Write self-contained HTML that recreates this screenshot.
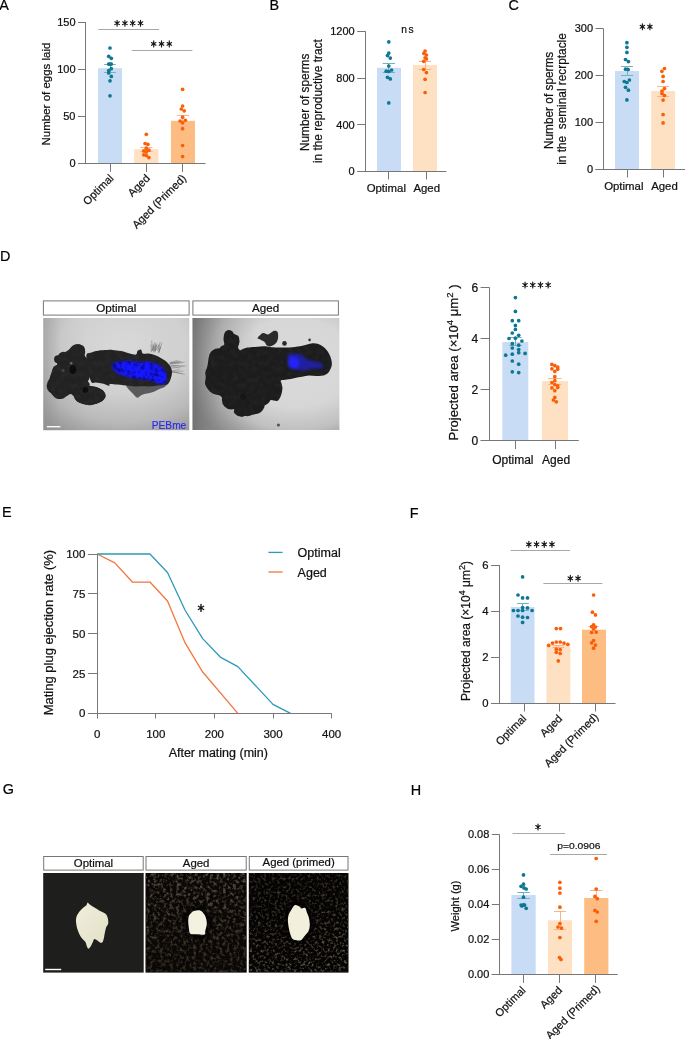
<!DOCTYPE html>
<html><head><meta charset="utf-8"><style>
html,body{margin:0;padding:0;background:#fff;}
svg{display:block;filter:blur(0.3px);}
text{font-family:"Liberation Sans", sans-serif;stroke:#111;stroke-width:0.22px;}
</style></head><body>
<svg width="685" height="1039" viewBox="0 0 685 1039" font-family='"Liberation Sans", sans-serif'>
<rect width="685" height="1039" fill="#fff"/>
<text x="-0.8" y="10.2" font-size="14.4" text-anchor="start" fill="#000" >A</text>
<rect x="98" y="68.19066666666666" width="24" height="95.20933333333335" fill="#c8dcf6" />
<rect x="134.2" y="149.2" width="24.30000000000001" height="14.200000000000017" fill="#fee0c2" />
<rect x="171" y="120.8" width="24" height="42.60000000000001" fill="#fdbd82" />
<line x1="85.5" y1="22.0" x2="85.5" y2="163.4" stroke="#777777" stroke-width="1"/>
<line x1="78.0" y1="22.5" x2="85.7" y2="22.5" stroke="#777777" stroke-width="1"/>
<text x="75.5" y="25.96" font-size="11" text-anchor="end" fill="#111" >150</text>
<line x1="78.0" y1="69.5" x2="85.7" y2="69.5" stroke="#777777" stroke-width="1"/>
<text x="75.5" y="73.09333333333333" font-size="11" text-anchor="end" fill="#111" >100</text>
<line x1="78.0" y1="116.5" x2="85.7" y2="116.5" stroke="#777777" stroke-width="1"/>
<text x="75.5" y="120.22666666666667" font-size="11" text-anchor="end" fill="#111" >50</text>
<line x1="78.0" y1="163.5" x2="85.7" y2="163.5" stroke="#777777" stroke-width="1"/>
<text x="75.5" y="167.36" font-size="11" text-anchor="end" fill="#111" >0</text>
<line x1="78" y1="163.5" x2="205.6" y2="163.5" stroke="#777777" stroke-width="1"/>
<line x1="110.5" y1="163.4" x2="110.5" y2="171.9" stroke="#777777" stroke-width="1"/>
<line x1="146.5" y1="163.4" x2="146.5" y2="171.9" stroke="#777777" stroke-width="1"/>
<line x1="182.5" y1="163.4" x2="182.5" y2="171.9" stroke="#777777" stroke-width="1"/>
<line x1="110.5" y1="64.4" x2="110.5" y2="72.5" stroke="#74b2c0" stroke-width="1"/>
<line x1="104.1" y1="64.5" x2="115.9" y2="64.5" stroke="#74b2c0" stroke-width="1"/>
<line x1="104.1" y1="72.5" x2="115.9" y2="72.5" stroke="#74b2c0" stroke-width="1"/>
<line x1="146.5" y1="147" x2="146.5" y2="151.4" stroke="#fbb48a" stroke-width="1"/>
<line x1="140.20000000000002" y1="147.5" x2="152.6" y2="147.5" stroke="#fbb48a" stroke-width="1"/>
<line x1="140.20000000000002" y1="151.5" x2="152.6" y2="151.5" stroke="#fbb48a" stroke-width="1"/>
<line x1="182.5" y1="115.1" x2="182.5" y2="126.4" stroke="#fbb48a" stroke-width="1"/>
<line x1="176.8" y1="115.5" x2="189.0" y2="115.5" stroke="#fbb48a" stroke-width="1"/>
<line x1="176.8" y1="126.5" x2="189.0" y2="126.5" stroke="#fbb48a" stroke-width="1"/>
<circle cx="110.0" cy="48.0" r="1.85" fill="#0c7892"/>
<circle cx="108.7" cy="56.3" r="1.85" fill="#0c7892"/>
<circle cx="111.3" cy="58.3" r="1.85" fill="#0c7892"/>
<circle cx="108.7" cy="64.1" r="1.85" fill="#0c7892"/>
<circle cx="111.3" cy="64.1" r="1.85" fill="#0c7892"/>
<circle cx="110" cy="64.1" r="1.85" fill="#0c7892"/>
<circle cx="111.3" cy="68.7" r="1.85" fill="#0c7892"/>
<circle cx="108.7" cy="70.7" r="1.85" fill="#0c7892"/>
<circle cx="108.7" cy="73" r="1.85" fill="#0c7892"/>
<circle cx="111.3" cy="76.4" r="1.85" fill="#0c7892"/>
<circle cx="110" cy="80.8" r="1.85" fill="#0c7892"/>
<circle cx="110" cy="95.8" r="1.85" fill="#0c7892"/>
<circle cx="146.3" cy="134.3" r="1.85" fill="#fa5f08"/>
<circle cx="145.1" cy="143.5" r="1.85" fill="#fa5f08"/>
<circle cx="147.9" cy="144.3" r="1.85" fill="#fa5f08"/>
<circle cx="146.3" cy="148.2" r="1.85" fill="#fa5f08"/>
<circle cx="143.8" cy="150.9" r="1.85" fill="#fa5f08"/>
<circle cx="148.9" cy="150.2" r="1.85" fill="#fa5f08"/>
<circle cx="146.3" cy="151.9" r="1.85" fill="#fa5f08"/>
<circle cx="143.8" cy="154.8" r="1.85" fill="#fa5f08"/>
<circle cx="146.3" cy="155.5" r="1.85" fill="#fa5f08"/>
<circle cx="148.9" cy="157.6" r="1.85" fill="#fa5f08"/>
<circle cx="182.6" cy="89.3" r="1.85" fill="#fa5f08"/>
<circle cx="182.6" cy="106" r="1.85" fill="#fa5f08"/>
<circle cx="181.3" cy="109" r="1.85" fill="#fa5f08"/>
<circle cx="184.2" cy="110.8" r="1.85" fill="#fa5f08"/>
<circle cx="182.6" cy="117.2" r="1.85" fill="#fa5f08"/>
<circle cx="180.1" cy="121" r="1.85" fill="#fa5f08"/>
<circle cx="185.4" cy="120.3" r="1.85" fill="#fa5f08"/>
<circle cx="182.6" cy="122.8" r="1.85" fill="#fa5f08"/>
<circle cx="182.6" cy="128.7" r="1.85" fill="#fa5f08"/>
<circle cx="182.6" cy="145.5" r="1.85" fill="#fa5f08"/>
<circle cx="182.6" cy="156.5" r="1.85" fill="#fa5f08"/>
<line x1="98.4" y1="29.5" x2="159" y2="29.5" stroke="#a8a8a8" stroke-width="1"/>
<path d="M117.10,20.20L117.10,26.20M114.86,24.60L119.34,21.80M114.86,21.80L119.34,24.60" stroke="#1a1a1a" stroke-width="1.15" stroke-linecap="round" fill="none"/><circle cx="117.10" cy="23.20" r="1.25" fill="#1a1a1a"/>
<path d="M124.90,20.20L124.90,26.20M122.66,24.60L127.14,21.80M122.66,21.80L127.14,24.60" stroke="#1a1a1a" stroke-width="1.15" stroke-linecap="round" fill="none"/><circle cx="124.90" cy="23.20" r="1.25" fill="#1a1a1a"/>
<path d="M132.70,20.20L132.70,26.20M130.46,24.60L134.94,21.80M130.46,21.80L134.94,24.60" stroke="#1a1a1a" stroke-width="1.15" stroke-linecap="round" fill="none"/><circle cx="132.70" cy="23.20" r="1.25" fill="#1a1a1a"/>
<path d="M140.50,20.20L140.50,26.20M138.26,24.60L142.74,21.80M138.26,21.80L142.74,24.60" stroke="#1a1a1a" stroke-width="1.15" stroke-linecap="round" fill="none"/><circle cx="140.50" cy="23.20" r="1.25" fill="#1a1a1a"/>
<line x1="131.8" y1="50.5" x2="192.4" y2="50.5" stroke="#a8a8a8" stroke-width="1"/>
<path d="M153.70,40.90L153.70,46.90M151.46,45.30L155.94,42.50M151.46,42.50L155.94,45.30" stroke="#1a1a1a" stroke-width="1.15" stroke-linecap="round" fill="none"/><circle cx="153.70" cy="43.90" r="1.25" fill="#1a1a1a"/>
<path d="M161.50,40.90L161.50,46.90M159.26,45.30L163.74,42.50M159.26,42.50L163.74,45.30" stroke="#1a1a1a" stroke-width="1.15" stroke-linecap="round" fill="none"/><circle cx="161.50" cy="43.90" r="1.25" fill="#1a1a1a"/>
<path d="M169.30,40.90L169.30,46.90M167.06,45.30L171.54,42.50M167.06,42.50L171.54,45.30" stroke="#1a1a1a" stroke-width="1.15" stroke-linecap="round" fill="none"/><circle cx="169.30" cy="43.90" r="1.25" fill="#1a1a1a"/>
<text x="49.5" y="94" font-size="11.5" text-anchor="middle" fill="#111" transform="rotate(-90 49.5 94)" >Number of eggs laid</text>
<text x="114.3" y="179" font-size="11" text-anchor="end" fill="#111" transform="rotate(-45 114.3 179)" >Optimal</text>
<text x="150.5" y="179" font-size="11" text-anchor="end" fill="#111" transform="rotate(-45 150.5 179)" >Aged</text>
<text x="186.8" y="179" font-size="11" text-anchor="end" fill="#111" transform="rotate(-45 186.8 179)" >Aged (Primed)</text>
<text x="269.6" y="9.9" font-size="14.4" text-anchor="start" fill="#000" >B</text>
<rect x="377" y="67.8" width="24" height="103.2" fill="#c8dcf6" />
<rect x="413" y="64.9" width="24" height="106.1" fill="#fee0c2" />
<line x1="365.5" y1="31.4" x2="365.5" y2="171" stroke="#777777" stroke-width="1"/>
<line x1="357.20000000000005" y1="31.5" x2="365.6" y2="31.5" stroke="#777777" stroke-width="1"/>
<text x="354.70000000000005" y="35.36" font-size="11" text-anchor="end" fill="#111" >1200</text>
<line x1="357.20000000000005" y1="78.5" x2="365.6" y2="78.5" stroke="#777777" stroke-width="1"/>
<text x="354.70000000000005" y="82.16" font-size="11" text-anchor="end" fill="#111" >800</text>
<line x1="357.20000000000005" y1="124.5" x2="365.6" y2="124.5" stroke="#777777" stroke-width="1"/>
<text x="354.70000000000005" y="128.56" font-size="11" text-anchor="end" fill="#111" >400</text>
<line x1="357.20000000000005" y1="171.5" x2="365.6" y2="171.5" stroke="#777777" stroke-width="1"/>
<text x="354.70000000000005" y="174.96" font-size="11" text-anchor="end" fill="#111" >0</text>
<line x1="357.6" y1="171.5" x2="446.4" y2="171.5" stroke="#777777" stroke-width="1"/>
<line x1="388.5" y1="171" x2="388.5" y2="179.5" stroke="#777777" stroke-width="1"/>
<line x1="426.5" y1="171" x2="426.5" y2="179.5" stroke="#777777" stroke-width="1"/>
<line x1="388.5" y1="63.2" x2="388.5" y2="72.3" stroke="#74b2c0" stroke-width="1"/>
<line x1="382.6" y1="63.5" x2="395.0" y2="63.5" stroke="#74b2c0" stroke-width="1"/>
<line x1="382.6" y1="72.5" x2="395.0" y2="72.5" stroke="#74b2c0" stroke-width="1"/>
<line x1="425.5" y1="61.3" x2="425.5" y2="69.5" stroke="#fbb48a" stroke-width="1"/>
<line x1="418.9" y1="61.5" x2="431.1" y2="61.5" stroke="#fbb48a" stroke-width="1"/>
<line x1="418.9" y1="69.5" x2="431.1" y2="69.5" stroke="#fbb48a" stroke-width="1"/>
<circle cx="388.8" cy="41.9" r="1.85" fill="#0c7892"/>
<circle cx="388.8" cy="53.1" r="1.85" fill="#0c7892"/>
<circle cx="387.5" cy="55.6" r="1.85" fill="#0c7892"/>
<circle cx="390.3" cy="58.1" r="1.85" fill="#0c7892"/>
<circle cx="388.8" cy="66" r="1.85" fill="#0c7892"/>
<circle cx="386.2" cy="71.2" r="1.85" fill="#0c7892"/>
<circle cx="388.8" cy="71.5" r="1.85" fill="#0c7892"/>
<circle cx="391.6" cy="70" r="1.85" fill="#0c7892"/>
<circle cx="387.5" cy="77.3" r="1.85" fill="#0c7892"/>
<circle cx="390.3" cy="78.9" r="1.85" fill="#0c7892"/>
<circle cx="388.8" cy="102.9" r="1.85" fill="#0c7892"/>
<circle cx="425.1" cy="51" r="1.85" fill="#fa5f08"/>
<circle cx="423.9" cy="53.4" r="1.85" fill="#fa5f08"/>
<circle cx="426.4" cy="55" r="1.85" fill="#fa5f08"/>
<circle cx="425.1" cy="57.8" r="1.85" fill="#fa5f08"/>
<circle cx="426.4" cy="58.9" r="1.85" fill="#fa5f08"/>
<circle cx="423.7" cy="61.3" r="1.85" fill="#fa5f08"/>
<circle cx="423.7" cy="69.5" r="1.85" fill="#fa5f08"/>
<circle cx="426.4" cy="72.6" r="1.85" fill="#fa5f08"/>
<circle cx="425.1" cy="79.3" r="1.85" fill="#fa5f08"/>
<circle cx="425.1" cy="92.5" r="1.85" fill="#fa5f08"/>
<text x="408.3" y="33.3" font-size="10.2" text-anchor="middle" fill="#111" letter-spacing="1.6">ns</text>
<text x="386.3" y="191.7" font-size="11.4" text-anchor="middle" fill="#111" >Optimal</text>
<text x="426.7" y="191.7" font-size="11.4" text-anchor="middle" fill="#111" >Aged</text>
<text x="309.3" y="102.3" font-size="11.85" text-anchor="middle" fill="#111" transform="rotate(-90 309.3 102.3)" >Number of sperms</text>
<text x="322.4" y="101.2" font-size="11.85" text-anchor="middle" fill="#111" transform="rotate(-90 322.4 101.2)" >in the reproductive tract</text>
<text x="508.6" y="10.2" font-size="14.4" text-anchor="start" fill="#000" >C</text>
<rect x="615" y="71" width="24" height="98" fill="#c8dcf6" />
<rect x="651.2" y="91" width="23.899999999999977" height="78" fill="#fee0c2" />
<line x1="603.5" y1="28.400000000000006" x2="603.5" y2="169.0" stroke="#777777" stroke-width="1"/>
<line x1="595.5" y1="28.5" x2="603.2" y2="28.5" stroke="#777777" stroke-width="1"/>
<text x="593.0" y="32.36000000000001" font-size="11" text-anchor="end" fill="#111" >300</text>
<line x1="595.5" y1="75.5" x2="603.2" y2="75.5" stroke="#777777" stroke-width="1"/>
<text x="593.0" y="79.22666666666666" font-size="11" text-anchor="end" fill="#111" >200</text>
<line x1="595.5" y1="122.5" x2="603.2" y2="122.5" stroke="#777777" stroke-width="1"/>
<text x="593.0" y="126.09333333333332" font-size="11" text-anchor="end" fill="#111" >100</text>
<line x1="595.5" y1="169.5" x2="603.2" y2="169.5" stroke="#777777" stroke-width="1"/>
<text x="593.0" y="172.96" font-size="11" text-anchor="end" fill="#111" >0</text>
<line x1="595.4" y1="169.5" x2="685" y2="169.5" stroke="#777777" stroke-width="1"/>
<line x1="627.5" y1="169" x2="627.5" y2="177.5" stroke="#777777" stroke-width="1"/>
<line x1="663.5" y1="169" x2="663.5" y2="177.5" stroke="#777777" stroke-width="1"/>
<line x1="627.5" y1="66.4" x2="627.5" y2="75.7" stroke="#74b2c0" stroke-width="1"/>
<line x1="621" y1="66.5" x2="633" y2="66.5" stroke="#74b2c0" stroke-width="1"/>
<line x1="621" y1="75.5" x2="633" y2="75.5" stroke="#74b2c0" stroke-width="1"/>
<line x1="663.5" y1="86.3" x2="663.5" y2="96.3" stroke="#fbb48a" stroke-width="1"/>
<line x1="657.1" y1="86.5" x2="669.1" y2="86.5" stroke="#fbb48a" stroke-width="1"/>
<line x1="657.1" y1="96.5" x2="669.1" y2="96.5" stroke="#fbb48a" stroke-width="1"/>
<circle cx="626.9" cy="42.7" r="1.85" fill="#0c7892"/>
<circle cx="626.9" cy="47.3" r="1.85" fill="#0c7892"/>
<circle cx="626.9" cy="52.4" r="1.85" fill="#0c7892"/>
<circle cx="625.5" cy="59.5" r="1.85" fill="#0c7892"/>
<circle cx="628.4" cy="61.6" r="1.85" fill="#0c7892"/>
<circle cx="625.5" cy="69.2" r="1.85" fill="#0c7892"/>
<circle cx="628.2" cy="69.5" r="1.85" fill="#0c7892"/>
<circle cx="624.3" cy="81.5" r="1.85" fill="#0c7892"/>
<circle cx="626.9" cy="82.5" r="1.85" fill="#0c7892"/>
<circle cx="629.4" cy="80" r="1.85" fill="#0c7892"/>
<circle cx="625.5" cy="87.3" r="1.85" fill="#0c7892"/>
<circle cx="628.4" cy="90.2" r="1.85" fill="#0c7892"/>
<circle cx="626.9" cy="99.9" r="1.85" fill="#0c7892"/>
<circle cx="664.5" cy="68.5" r="1.85" fill="#fa5f08"/>
<circle cx="661.9" cy="71.3" r="1.85" fill="#fa5f08"/>
<circle cx="663.1" cy="76.4" r="1.85" fill="#fa5f08"/>
<circle cx="663.1" cy="81.5" r="1.85" fill="#fa5f08"/>
<circle cx="664.5" cy="88.6" r="1.85" fill="#fa5f08"/>
<circle cx="661.9" cy="91" r="1.85" fill="#fa5f08"/>
<circle cx="661.9" cy="93.5" r="1.85" fill="#fa5f08"/>
<circle cx="664.5" cy="95.5" r="1.85" fill="#fa5f08"/>
<circle cx="663.1" cy="100.1" r="1.85" fill="#fa5f08"/>
<circle cx="663.1" cy="114.5" r="1.85" fill="#fa5f08"/>
<circle cx="663.1" cy="122.9" r="1.85" fill="#fa5f08"/>
<path d="M642.40,23.75L642.40,29.75M640.16,28.15L644.64,25.35M640.16,25.35L644.64,28.15" stroke="#1a1a1a" stroke-width="1.15" stroke-linecap="round" fill="none"/><circle cx="642.40" cy="26.75" r="1.25" fill="#1a1a1a"/>
<path d="M649.90,23.75L649.90,29.75M647.66,28.15L652.14,25.35M647.66,25.35L652.14,28.15" stroke="#1a1a1a" stroke-width="1.15" stroke-linecap="round" fill="none"/><circle cx="649.90" cy="26.75" r="1.25" fill="#1a1a1a"/>
<text x="623.8" y="190.2" font-size="11.4" text-anchor="middle" fill="#111" >Optimal</text>
<text x="664.5" y="190.2" font-size="11.4" text-anchor="middle" fill="#111" >Aged</text>
<text x="553.3" y="100.4" font-size="11.85" text-anchor="middle" fill="#111" transform="rotate(-90 553.3 100.4)" >Number of sperms</text>
<text x="566.1" y="99.0" font-size="11.85" text-anchor="middle" fill="#111" transform="rotate(-90 566.1 99.0)" >in the&#160; seminal recrptacle</text>
<text x="0" y="260.7" font-size="14.4" text-anchor="start" fill="#000" >D</text>
<rect x="43.4" y="300.9" width="145.7" height="14.2" fill="#fff" stroke="#777" stroke-width="1"/>
<text x="116.25" y="312.3" font-size="11.6" text-anchor="middle" fill="#111" >Optimal</text>
<rect x="192.9" y="300.9" width="145.49999999999997" height="14.2" fill="#fff" stroke="#777" stroke-width="1"/>
<text x="265.65" y="312.3" font-size="11.6" text-anchor="middle" fill="#111" >Aged</text>

<defs>
 <radialGradient id="dbg1" cx="0.55" cy="0.25" r="0.85">
  <stop offset="0" stop-color="#d8d8d8"/><stop offset="0.5" stop-color="#d0d0d0"/><stop offset="0.8" stop-color="#b9b9b9"/><stop offset="1" stop-color="#9c9c9c"/>
 </radialGradient>
 <linearGradient id="dbg1l" x1="0" y1="0" x2="1" y2="0">
  <stop offset="0" stop-color="#888" stop-opacity="0.45"/><stop offset="0.12" stop-color="#888" stop-opacity="0.1"/><stop offset="0.3" stop-color="#888" stop-opacity="0"/>
 </linearGradient>
 <radialGradient id="dbg2" cx="0.7" cy="0.4" r="0.8">
  <stop offset="0" stop-color="#dbdbdb"/><stop offset="0.5" stop-color="#d6d6d6"/><stop offset="0.75" stop-color="#c0c0c0"/><stop offset="1" stop-color="#8c8c8c"/>
 </radialGradient>
 <linearGradient id="dbg2l" x1="0" y1="0" x2="1" y2="0">
  <stop offset="0" stop-color="#6a6a6a" stop-opacity="0.75"/><stop offset="0.2" stop-color="#8a8a8a" stop-opacity="0.35"/><stop offset="0.45" stop-color="#999" stop-opacity="0"/>
 </linearGradient>
 <filter id="soft" x="-10%" y="-10%" width="120%" height="120%"><feGaussianBlur stdDeviation="0.6"/></filter>
 <filter id="soft2" x="-20%" y="-20%" width="140%" height="140%"><feGaussianBlur stdDeviation="0.9"/></filter>
 <filter id="soft3" x="-20%" y="-20%" width="140%" height="140%"><feGaussianBlur stdDeviation="1.6"/></filter>
 <filter id="mottle" x="0" y="0" width="100%" height="100%" color-interpolation-filters="sRGB">
  <feTurbulence type="fractalNoise" baseFrequency="0.18" numOctaves="3" seed="11" result="n"/>
  <feColorMatrix in="n" type="matrix" values="0 0 0 0 0.4  0 0 0 0 0.4  0 0 0 0 0.4  1.2 0 0 0 -0.45" result="s"/>
  <feComposite in="s" in2="SourceGraphic" operator="in"/>
 </filter>
 <filter id="bmottle" x="0" y="0" width="100%" height="100%" color-interpolation-filters="sRGB">
  <feTurbulence type="fractalNoise" baseFrequency="0.3" numOctaves="2" seed="5" result="n"/>
  <feColorMatrix in="n" type="matrix" values="0 0 0 0 0.02  0 0 0 0 0.02  0 0 0 0 0.35  2.2 0 0 0 -0.9" result="s"/>
  <feComposite in="s" in2="SourceGraphic" operator="in"/>
 </filter>
 <clipPath id="cpo"><path d="M69.0,349.6C70.3,348.5 71.7,346.2 73.3,345.3C74.9,344.4 77.0,344.0 78.7,344.2C80.4,344.4 82.5,345.2 83.6,346.3C84.7,347.5 85.0,349.7 85.2,351.2C85.4,352.7 84.5,354.4 84.7,355.5C84.9,356.6 85.5,356.4 86.3,357.7C87.1,358.9 88.8,360.9 89.5,363.1C90.3,365.2 90.6,368.1 90.6,370.6C90.6,373.2 90.1,376.2 89.5,378.2C89.0,380.2 87.4,381.3 87.4,382.5C87.4,383.8 88.1,385.1 89.5,385.8C91.0,386.5 93.9,386.1 96.0,386.9C98.2,387.6 100.9,388.7 102.5,390.1C104.1,391.5 105.6,393.9 105.7,395.5C105.9,397.1 104.8,398.6 103.6,399.8C102.3,401.1 100.3,402.2 98.2,403.1C96.0,404.0 93.1,405.0 90.6,405.2C88.1,405.4 85.4,404.9 83.1,404.1C80.7,403.4 78.1,402.2 76.6,400.9C75.0,399.6 74.9,397.7 73.9,396.6C72.9,395.4 71.8,394.0 70.6,393.9C69.5,393.8 68.2,395.2 66.8,396.0C65.5,396.8 64.1,398.3 62.5,398.7C60.9,399.2 58.7,399.3 57.1,398.7C55.5,398.2 54.1,396.9 52.8,395.5C51.5,394.1 50.4,392.1 49.6,390.1C48.8,388.1 47.9,385.6 47.9,383.6C47.9,381.6 48.9,380.2 49.6,378.2C50.2,376.2 51.0,373.5 51.7,371.7C52.4,369.9 53.0,368.5 53.9,367.4C54.8,366.3 56.7,366.3 57.1,365.2C57.6,364.2 56.6,362.4 56.6,360.9C56.6,359.5 56.4,357.9 57.1,356.6C57.8,355.3 59.5,354.2 60.9,353.4C62.3,352.6 64.4,352.4 65.8,351.7C67.1,351.1 67.7,350.7 69.0,349.6Z"/><path d="M86.3,356.6C86.3,352.0 88.6,353.8 90.6,352.8C92.6,351.8 95.5,351.1 98.2,350.7C100.9,350.2 104.4,350.3 106.8,350.1C109.2,350.0 110.1,349.7 112.4,349.9C114.8,350.1 118.2,350.5 121.1,351.1C124.0,351.8 127.3,353.0 129.8,353.6C132.3,354.2 134.7,355.1 136.0,354.6C137.3,354.2 136.7,351.7 137.5,350.9C138.3,350.1 140.1,349.2 141.0,349.6C141.9,350.1 141.6,353.0 142.8,353.6C144.1,354.3 146.5,353.4 148.4,353.6C150.4,353.8 152.6,354.1 154.6,354.9C156.7,355.6 158.8,356.7 160.8,358.0C162.9,359.2 165.4,360.7 167.0,362.3C168.7,363.9 169.9,365.6 170.8,367.3C171.6,368.9 172.0,370.4 172.0,372.2C172.0,374.1 171.4,376.6 170.8,378.4C170.1,380.3 169.5,382.3 168.3,383.4C167.0,384.5 165.6,384.5 163.3,384.9C161.0,385.3 158.2,385.6 154.6,385.9C151.1,386.1 146.4,386.5 142.2,386.5C138.1,386.5 134.0,386.2 129.8,385.9C125.7,385.6 120.7,384.9 117.4,384.6C114.1,384.3 111.4,383.8 110.0,384.0C108.6,384.2 110.2,385.8 109.0,385.8C107.7,385.7 104.7,384.2 102.5,383.6C100.3,383.1 98.0,383.1 96.0,382.5C94.0,382.0 92.2,384.7 90.6,380.4C89.0,376.1 86.3,361.2 86.3,356.6Z"/></clipPath>
 <clipPath id="cpa"><path d="M224.8,332.5C225.7,331.0 227.7,330.1 228.8,330.1C229.9,330.1 230.3,331.7 231.4,332.5C232.5,333.2 234.2,333.8 235.4,334.4C236.6,335.1 238.0,335.2 238.6,336.4C239.3,337.6 239.4,339.9 239.3,341.7C239.2,343.4 237.9,345.5 238.0,346.9C238.1,348.3 239.3,349.8 240.0,350.2C240.6,350.6 240.7,350.0 241.9,349.5C243.1,349.1 245.0,348.0 247.2,347.6C249.4,347.1 252.0,347.1 255.1,346.9C258.1,346.7 262.8,346.2 265.6,346.2C268.3,346.3 268.7,347.1 271.7,347.3C274.6,347.5 279.5,347.6 283.4,347.5C287.3,347.5 291.5,347.3 295.0,346.9C298.5,346.5 301.7,345.8 304.4,345.2C307.1,344.6 309.1,343.6 311.4,343.4C313.7,343.2 316.3,343.3 318.4,344.0C320.5,344.7 322.5,346.0 324.2,347.5C326.0,349.1 327.7,351.4 328.9,353.4C330.1,355.3 330.8,357.3 331.2,359.2C331.7,361.1 332.0,363.3 331.8,365.0C331.6,366.8 330.8,368.3 330.1,369.7C329.4,371.1 328.9,372.2 327.7,373.2C326.6,374.2 325.0,375.1 323.1,375.5C321.1,376.0 318.4,376.1 316.1,376.1C313.7,376.1 311.4,375.5 309.1,375.5C306.7,375.6 304.4,376.3 302.0,376.7C299.7,377.1 297.6,377.4 295.0,377.9C292.5,378.4 289.2,379.2 286.9,379.6C284.5,380.1 281.9,379.8 281.0,380.5C280.1,381.1 281.4,382.4 281.6,383.7C281.8,385.0 282.5,386.4 282.4,388.4C282.3,390.3 281.8,393.4 281.0,395.4C280.2,397.4 279.2,399.9 277.5,400.7C275.8,401.4 272.8,399.9 270.8,400.1C268.8,400.4 266.7,400.9 265.6,402.1C264.5,403.3 265.1,405.6 264.3,407.3C263.4,409.1 262.1,411.4 260.3,412.6C258.6,413.8 256.4,414.0 253.8,414.6C251.1,415.1 247.2,415.7 244.6,415.9C241.9,416.1 239.7,416.4 238.0,415.9C236.2,415.3 234.7,413.8 234.0,412.6C233.4,411.4 234.7,409.8 234.0,408.7C233.4,407.6 231.6,406.9 230.1,406.0C228.6,405.2 226.2,404.7 224.8,403.4C223.5,402.1 223.1,399.5 222.2,398.1C221.3,396.8 221.1,396.3 219.6,395.5C218.1,394.8 215.0,394.6 213.0,393.5C211.1,392.5 209.1,390.6 207.8,389.0C206.5,387.3 205.5,385.7 205.1,383.7C204.8,381.7 205.6,379.3 205.8,377.1C206.0,374.9 206.1,372.7 206.5,370.6C206.8,368.4 207.3,366.4 207.8,364.0C208.2,361.6 208.4,358.2 209.1,356.1C209.7,354.0 210.4,352.6 211.7,351.5C213.0,350.4 215.2,350.1 217.0,349.5C218.7,349.0 221.0,349.1 222.2,348.2C223.4,347.3 224.0,345.8 224.2,344.3C224.4,342.7 223.4,341.0 223.5,339.0C223.6,337.1 224.0,333.9 224.8,332.5Z"/></clipPath>
 <clipPath id="cpb"><path d="M112.4,364.2C113.5,363.2 115.8,362.2 118.6,361.7C121.5,361.2 126.3,361.0 129.8,361.1C133.3,361.2 136.6,362.2 139.7,362.3C142.8,362.4 145.5,361.4 148.4,361.7C151.3,362.0 154.6,363.0 157.1,364.2C159.6,365.3 161.8,366.7 163.3,368.5C164.9,370.3 165.9,372.6 166.4,374.7C166.9,376.8 166.9,379.4 166.4,380.9C165.9,382.5 164.7,383.6 163.3,384.0C162.0,384.5 160.0,384.1 158.4,383.6C156.7,383.2 155.5,381.8 153.4,381.2C151.3,380.5 148.6,380.1 145.9,379.7C143.3,379.3 140.0,379.1 137.3,378.7C134.6,378.3 132.5,378.1 129.8,377.4C127.1,376.8 123.6,376.0 121.1,375.0C118.6,373.9 116.4,372.5 114.9,371.2C113.5,370.0 112.9,368.4 112.4,367.3C112.0,366.1 111.4,365.1 112.4,364.2Z"/></clipPath>
 <filter id="dmottle" x="0" y="0" width="100%" height="100%" color-interpolation-filters="sRGB">
  <feTurbulence type="fractalNoise" baseFrequency="0.22" numOctaves="2" seed="21" result="n"/>
  <feColorMatrix in="n" type="matrix" values="0 0 0 0 0.02  0 0 0 0 0.02  0 0 0 0 0.25  3.0 0 0 0 -1.4" result="s"/>
  <feComposite in="s" in2="SourceGraphic" operator="in"/>
 </filter>
</defs>
<rect x="43.3" y="318" width="146" height="112.2" fill="url(#dbg1)"/>
<rect x="43.3" y="318" width="146" height="112.2" fill="url(#dbg1l)"/>
<rect x="192.6" y="318" width="146.8" height="112" fill="url(#dbg2)"/>
<rect x="192.6" y="318" width="146.8" height="112" fill="url(#dbg2l)"/>
<g filter="url(#soft)">
 <line x1="153.0" y1="350.3" x2="153.3" y2="344.5" stroke="#666" stroke-width="0.45"/><line x1="151.5" y1="351.4" x2="155.0" y2="342.4" stroke="#666" stroke-width="0.45"/><line x1="157.6" y1="350.7" x2="158.8" y2="344.3" stroke="#666" stroke-width="0.45"/><line x1="152.4" y1="350.3" x2="151.7" y2="340.6" stroke="#666" stroke-width="0.45"/><line x1="158.1" y1="352.9" x2="160.9" y2="346.9" stroke="#666" stroke-width="0.45"/><line x1="153.6" y1="352.2" x2="156.0" y2="343.0" stroke="#666" stroke-width="0.45"/><line x1="158.6" y1="350.2" x2="160.2" y2="341.9" stroke="#666" stroke-width="0.45"/><line x1="155.3" y1="350.6" x2="156.1" y2="345.1" stroke="#666" stroke-width="0.45"/><line x1="159.0" y1="353.1" x2="160.3" y2="346.6" stroke="#666" stroke-width="0.45"/><line x1="158.8" y1="352.0" x2="162.1" y2="342.8" stroke="#666" stroke-width="0.45"/><line x1="155.3" y1="351.4" x2="156.9" y2="344.3" stroke="#666" stroke-width="0.45"/><line x1="152.3" y1="351.0" x2="155.2" y2="345.8" stroke="#666" stroke-width="0.45"/><line x1="151.3" y1="352.2" x2="151.0" y2="344.5" stroke="#666" stroke-width="0.45"/><line x1="155.0" y1="351.2" x2="159.0" y2="345.2" stroke="#666" stroke-width="0.45"/><line x1="154.5" y1="350.6" x2="156.3" y2="344.3" stroke="#666" stroke-width="0.45"/><line x1="154.0" y1="352.7" x2="153.9" y2="344.9" stroke="#666" stroke-width="0.45"/><line x1="171.7" y1="362.7" x2="180.1" y2="361.1" stroke="#777" stroke-width="0.45"/><line x1="171.3" y1="368.2" x2="180.9" y2="367.2" stroke="#777" stroke-width="0.45"/><line x1="169.5" y1="366.5" x2="177.8" y2="367.7" stroke="#777" stroke-width="0.45"/><line x1="171.7" y1="371.7" x2="184.8" y2="374.5" stroke="#777" stroke-width="0.45"/><line x1="169.0" y1="364.7" x2="183.7" y2="366.4" stroke="#777" stroke-width="0.45"/><line x1="170.2" y1="371.6" x2="182.5" y2="373.5" stroke="#777" stroke-width="0.45"/><line x1="169.8" y1="363.7" x2="180.9" y2="361.5" stroke="#777" stroke-width="0.45"/><line x1="170.1" y1="371.8" x2="180.4" y2="368.9" stroke="#777" stroke-width="0.45"/><line x1="169.0" y1="363.5" x2="182.5" y2="362.6" stroke="#777" stroke-width="0.45"/><line x1="169.8" y1="362.7" x2="184.7" y2="362.2" stroke="#777" stroke-width="0.45"/><line x1="169.6" y1="362.3" x2="177.9" y2="360.3" stroke="#777" stroke-width="0.45"/><line x1="171.0" y1="363.3" x2="179.3" y2="363.2" stroke="#777" stroke-width="0.45"/><line x1="169.7" y1="372.2" x2="178.5" y2="372.4" stroke="#777" stroke-width="0.45"/><line x1="171.3" y1="366.0" x2="186.2" y2="365.9" stroke="#777" stroke-width="0.45"/><line x1="169.7" y1="366.0" x2="177.9" y2="365.5" stroke="#777" stroke-width="0.45"/><line x1="169.7" y1="371.1" x2="183.5" y2="371.1" stroke="#777" stroke-width="0.45"/>
 <path d="M126.1,385.3C126.7,384.1 132.3,386.0 136.0,386.1C139.7,386.3 143.9,386.4 148.4,386.1C153.0,385.9 160.0,385.1 163.3,384.6C166.7,384.1 168.3,382.8 168.5,383.1C168.7,383.5 166.3,385.8 164.6,386.9C162.9,387.9 160.4,388.4 158.4,389.4C156.3,390.3 154.8,391.4 152.2,392.3C149.5,393.2 144.7,393.9 142.2,394.8C139.8,395.7 139.1,397.9 137.5,397.7C135.9,397.4 134.5,395.4 132.5,393.3C130.6,391.3 125.5,386.5 126.1,385.3Z" fill="#2e2e2e" opacity="0.72"/>
 <path d="M86.3,356.6C86.3,352.0 88.6,353.8 90.6,352.8C92.6,351.8 95.5,351.1 98.2,350.7C100.9,350.2 104.4,350.3 106.8,350.1C109.2,350.0 110.1,349.7 112.4,349.9C114.8,350.1 118.2,350.5 121.1,351.1C124.0,351.8 127.3,353.0 129.8,353.6C132.3,354.2 134.7,355.1 136.0,354.6C137.3,354.2 136.7,351.7 137.5,350.9C138.3,350.1 140.1,349.2 141.0,349.6C141.9,350.1 141.6,353.0 142.8,353.6C144.1,354.3 146.5,353.4 148.4,353.6C150.4,353.8 152.6,354.1 154.6,354.9C156.7,355.6 158.8,356.7 160.8,358.0C162.9,359.2 165.4,360.7 167.0,362.3C168.7,363.9 169.9,365.6 170.8,367.3C171.6,368.9 172.0,370.4 172.0,372.2C172.0,374.1 171.4,376.6 170.8,378.4C170.1,380.3 169.5,382.3 168.3,383.4C167.0,384.5 165.6,384.5 163.3,384.9C161.0,385.3 158.2,385.6 154.6,385.9C151.1,386.1 146.4,386.5 142.2,386.5C138.1,386.5 134.0,386.2 129.8,385.9C125.7,385.6 120.7,384.9 117.4,384.6C114.1,384.3 111.4,383.8 110.0,384.0C108.6,384.2 110.2,385.8 109.0,385.8C107.7,385.7 104.7,384.2 102.5,383.6C100.3,383.1 98.0,383.1 96.0,382.5C94.0,382.0 92.2,384.7 90.6,380.4C89.0,376.1 86.3,361.2 86.3,356.6Z" fill="#222"/>
 <path d="M69.0,349.6C70.3,348.5 71.7,346.2 73.3,345.3C74.9,344.4 77.0,344.0 78.7,344.2C80.4,344.4 82.5,345.2 83.6,346.3C84.7,347.5 85.0,349.7 85.2,351.2C85.4,352.7 84.5,354.4 84.7,355.5C84.9,356.6 85.5,356.4 86.3,357.7C87.1,358.9 88.8,360.9 89.5,363.1C90.3,365.2 90.6,368.1 90.6,370.6C90.6,373.2 90.1,376.2 89.5,378.2C89.0,380.2 87.4,381.3 87.4,382.5C87.4,383.8 88.1,385.1 89.5,385.8C91.0,386.5 93.9,386.1 96.0,386.9C98.2,387.6 100.9,388.7 102.5,390.1C104.1,391.5 105.6,393.9 105.7,395.5C105.9,397.1 104.8,398.6 103.6,399.8C102.3,401.1 100.3,402.2 98.2,403.1C96.0,404.0 93.1,405.0 90.6,405.2C88.1,405.4 85.4,404.9 83.1,404.1C80.7,403.4 78.1,402.2 76.6,400.9C75.0,399.6 74.9,397.7 73.9,396.6C72.9,395.4 71.8,394.0 70.6,393.9C69.5,393.8 68.2,395.2 66.8,396.0C65.5,396.8 64.1,398.3 62.5,398.7C60.9,399.2 58.7,399.3 57.1,398.7C55.5,398.2 54.1,396.9 52.8,395.5C51.5,394.1 50.4,392.1 49.6,390.1C48.8,388.1 47.9,385.6 47.9,383.6C47.9,381.6 48.9,380.2 49.6,378.2C50.2,376.2 51.0,373.5 51.7,371.7C52.4,369.9 53.0,368.5 53.9,367.4C54.8,366.3 56.7,366.3 57.1,365.2C57.6,364.2 56.6,362.4 56.6,360.9C56.6,359.5 56.4,357.9 57.1,356.6C57.8,355.3 59.5,354.2 60.9,353.4C62.3,352.6 64.4,352.4 65.8,351.7C67.1,351.1 67.7,350.7 69.0,349.6Z" fill="#222"/>
 <circle cx="77.6" cy="351.2" r="7.0" fill="#212121"/><circle cx="63.6" cy="357.7" r="5.9" fill="#212121"/><circle cx="58.2" cy="359.3" r="4.1" fill="#212121"/><circle cx="58.2" cy="370.6" r="5.9" fill="#212121"/><circle cx="55.0" cy="385.8" r="8.4" fill="#212121"/><circle cx="60.9" cy="380.4" r="5.4" fill="#212121"/><circle cx="73.3" cy="369.6" r="8.4" fill="#212121"/><circle cx="79.8" cy="362.0" r="6.5" fill="#212121"/><ellipse cx="89.5" cy="395.5" rx="15.7" ry="9.3" fill="#212121"/><ellipse cx="83.1" cy="384.2" rx="6.5" ry="4.3" fill="#212121"/><circle cx="70.1" cy="381.5" r="4.9" fill="#212121"/><circle cx="85.2" cy="370.6" r="6.5" fill="#212121"/><circle cx="71.2" cy="363.3" r="1.3" fill="#6a6a6a"/><circle cx="63.1" cy="370.6" r="1.5" fill="#444"/>
 <path d="M224.8,332.5C225.7,331.0 227.7,330.1 228.8,330.1C229.9,330.1 230.3,331.7 231.4,332.5C232.5,333.2 234.2,333.8 235.4,334.4C236.6,335.1 238.0,335.2 238.6,336.4C239.3,337.6 239.4,339.9 239.3,341.7C239.2,343.4 237.9,345.5 238.0,346.9C238.1,348.3 239.3,349.8 240.0,350.2C240.6,350.6 240.7,350.0 241.9,349.5C243.1,349.1 245.0,348.0 247.2,347.6C249.4,347.1 252.0,347.1 255.1,346.9C258.1,346.7 262.8,346.2 265.6,346.2C268.3,346.3 268.7,347.1 271.7,347.3C274.6,347.5 279.5,347.6 283.4,347.5C287.3,347.5 291.5,347.3 295.0,346.9C298.5,346.5 301.7,345.8 304.4,345.2C307.1,344.6 309.1,343.6 311.4,343.4C313.7,343.2 316.3,343.3 318.4,344.0C320.5,344.7 322.5,346.0 324.2,347.5C326.0,349.1 327.7,351.4 328.9,353.4C330.1,355.3 330.8,357.3 331.2,359.2C331.7,361.1 332.0,363.3 331.8,365.0C331.6,366.8 330.8,368.3 330.1,369.7C329.4,371.1 328.9,372.2 327.7,373.2C326.6,374.2 325.0,375.1 323.1,375.5C321.1,376.0 318.4,376.1 316.1,376.1C313.7,376.1 311.4,375.5 309.1,375.5C306.7,375.6 304.4,376.3 302.0,376.7C299.7,377.1 297.6,377.4 295.0,377.9C292.5,378.4 289.2,379.2 286.9,379.6C284.5,380.1 281.9,379.8 281.0,380.5C280.1,381.1 281.4,382.4 281.6,383.7C281.8,385.0 282.5,386.4 282.4,388.4C282.3,390.3 281.8,393.4 281.0,395.4C280.2,397.4 279.2,399.9 277.5,400.7C275.8,401.4 272.8,399.9 270.8,400.1C268.8,400.4 266.7,400.9 265.6,402.1C264.5,403.3 265.1,405.6 264.3,407.3C263.4,409.1 262.1,411.4 260.3,412.6C258.6,413.8 256.4,414.0 253.8,414.6C251.1,415.1 247.2,415.7 244.6,415.9C241.9,416.1 239.7,416.4 238.0,415.9C236.2,415.3 234.7,413.8 234.0,412.6C233.4,411.4 234.7,409.8 234.0,408.7C233.4,407.6 231.6,406.9 230.1,406.0C228.6,405.2 226.2,404.7 224.8,403.4C223.5,402.1 223.1,399.5 222.2,398.1C221.3,396.8 221.1,396.3 219.6,395.5C218.1,394.8 215.0,394.6 213.0,393.5C211.1,392.5 209.1,390.6 207.8,389.0C206.5,387.3 205.5,385.7 205.1,383.7C204.8,381.7 205.6,379.3 205.8,377.1C206.0,374.9 206.1,372.7 206.5,370.6C206.8,368.4 207.3,366.4 207.8,364.0C208.2,361.6 208.4,358.2 209.1,356.1C209.7,354.0 210.4,352.6 211.7,351.5C213.0,350.4 215.2,350.1 217.0,349.5C218.7,349.0 221.0,349.1 222.2,348.2C223.4,347.3 224.0,345.8 224.2,344.3C224.4,342.7 223.4,341.0 223.5,339.0C223.6,337.1 224.0,333.9 224.8,332.5Z" fill="#1f1f1f"/>
 <circle cx="229.4" cy="334.4" r="4.2" fill="#1f1f1f"/><circle cx="232.1" cy="342.3" r="7.2" fill="#1f1f1f"/><circle cx="218.3" cy="357.4" r="9.2" fill="#1f1f1f"/><circle cx="213.7" cy="373.2" r="8.5" fill="#1f1f1f"/><circle cx="215.7" cy="385.7" r="8.1" fill="#1f1f1f"/><circle cx="231.4" cy="400.1" r="9.5" fill="#1f1f1f"/><circle cx="247.2" cy="407.3" r="8.9" fill="#1f1f1f"/><circle cx="241.9" cy="412.6" r="4.2" fill="#1f1f1f"/><circle cx="262.3" cy="396.8" r="8.9" fill="#1f1f1f"/><circle cx="224.8" cy="350.8" r="5.9" fill="#1f1f1f"/>
 <path d="M257.7,337.7C258.4,336.7 261.2,333.7 263.0,333.1C264.7,332.6 266.5,334.8 268.2,334.4C270.0,334.1 271.9,331.6 273.5,331.1C275.0,330.7 276.6,330.7 277.4,331.8C278.2,332.9 278.3,335.8 278.1,337.7C277.8,339.6 277.3,341.5 276.1,343.0C274.9,344.4 272.4,345.8 270.8,346.2C269.3,346.7 268.0,346.4 266.9,345.6C265.8,344.8 265.6,342.7 264.3,341.7C263.0,340.6 260.1,339.7 259.0,339.0C257.9,338.4 257.0,338.7 257.7,337.7Z" fill="#2a2a2a"/>
 <circle cx="284.5" cy="343.4" r="2.3" fill="#2a2a2a"/>
 <circle cx="309.6" cy="339.9" r="1.3" fill="#333"/>
 <circle cx="278.4" cy="425" r="1.6" fill="#555"/>
</g>
<g clip-path="url(#cpo)" opacity="0.2"><rect x="43" y="318" width="147" height="112" fill="#fff" filter="url(#mottle)"/></g>
<g clip-path="url(#cpa)" opacity="0.2"><rect x="192" y="318" width="148" height="112" fill="#fff" filter="url(#mottle)"/></g>
<g filter="url(#soft)">
 <ellipse cx="72.8" cy="369.6" rx="3.4" ry="4.4" fill="#111"/>
 <ellipse cx="85.2" cy="390.1" rx="3.0" ry="3.0" fill="#111"/>
 <ellipse cx="243.2" cy="396.8" rx="3.0" ry="3.0" fill="#141414"/>
</g>
<g filter="url(#soft2)">
 <path d="M112.4,364.2C113.5,363.2 115.8,362.2 118.6,361.7C121.5,361.2 126.3,361.0 129.8,361.1C133.3,361.2 136.6,362.2 139.7,362.3C142.8,362.4 145.5,361.4 148.4,361.7C151.3,362.0 154.6,363.0 157.1,364.2C159.6,365.3 161.8,366.7 163.3,368.5C164.9,370.3 165.9,372.6 166.4,374.7C166.9,376.8 166.9,379.4 166.4,380.9C165.9,382.5 164.7,383.6 163.3,384.0C162.0,384.5 160.0,384.1 158.4,383.6C156.7,383.2 155.5,381.8 153.4,381.2C151.3,380.5 148.6,380.1 145.9,379.7C143.3,379.3 140.0,379.1 137.3,378.7C134.6,378.3 132.5,378.1 129.8,377.4C127.1,376.8 123.6,376.0 121.1,375.0C118.6,373.9 116.4,372.5 114.9,371.2C113.5,370.0 112.9,368.4 112.4,367.3C112.0,366.1 111.4,365.1 112.4,364.2Z" fill="#1616ff"/>
</g>
<g clip-path="url(#cpb)" opacity="0.75"><rect x="100" y="340" width="80" height="50" fill="#fff" filter="url(#dmottle)"/></g>
<g filter="url(#soft3)">
 <path d="M288.0,354.5C289.2,353.7 292.7,353.3 295.0,353.4C297.4,353.5 300.1,354.1 302.0,355.1C304.0,356.1 304.8,358.1 306.7,359.2C308.7,360.3 311.8,361.0 313.7,361.5C315.7,362.0 317.0,361.7 318.4,362.1C319.8,362.5 321.1,363.0 321.9,363.9C322.7,364.7 323.7,366.6 323.1,367.4C322.5,368.2 320.3,368.3 318.4,368.5C316.4,368.7 313.3,368.2 311.4,368.5C309.4,368.8 308.7,370.0 306.7,370.3C304.8,370.6 302.0,370.5 299.7,370.3C297.4,370.1 294.5,369.6 292.7,369.1C290.9,368.6 290.0,368.4 289.2,367.4C288.4,366.3 288.0,364.3 287.8,362.7C287.6,361.1 288.0,359.4 288.0,358.0C288.1,356.7 286.9,355.3 288.0,354.5Z" fill="#2020b8" opacity="0.85"/>
 <path d="M289.2,358.0C290.3,357.1 293.5,357.1 295.0,357.4C296.6,357.8 298.0,358.9 298.5,360.4C299.1,361.8 299.1,364.8 298.5,366.2C298.0,367.6 296.4,368.3 295.0,368.5C293.7,368.7 291.4,368.2 290.4,367.4C289.3,366.5 288.8,364.8 288.6,363.3C288.4,361.7 288.1,359.0 289.2,358.0Z" fill="#2424ff"/>
</g>
<line x1="46.9" y1="426.7" x2="60.3" y2="426.7" stroke="#fff" stroke-width="1.3"/>
<text x="186.3" y="428.6" font-size="10.2" text-anchor="end" fill="#2a2af0" style="stroke:#2a2af0;stroke-width:0.15px">PEBme</text>

<rect x="502.3" y="342" width="25.999999999999943" height="98.60000000000002" fill="#c8dcf6" />
<rect x="542" y="381.1" width="26" height="59.5" fill="#fee0c2" />
<line x1="489.5" y1="287.4" x2="489.5" y2="440.6" stroke="#777777" stroke-width="1"/>
<line x1="480.6" y1="287.5" x2="489.5" y2="287.5" stroke="#777777" stroke-width="1"/>
<text x="478.1" y="291.71999999999997" font-size="12" text-anchor="end" fill="#111" >6</text>
<line x1="480.6" y1="338.5" x2="489.5" y2="338.5" stroke="#777777" stroke-width="1"/>
<text x="478.1" y="342.78666666666663" font-size="12" text-anchor="end" fill="#111" >4</text>
<line x1="480.6" y1="389.5" x2="489.5" y2="389.5" stroke="#777777" stroke-width="1"/>
<text x="478.1" y="393.85333333333335" font-size="12" text-anchor="end" fill="#111" >2</text>
<line x1="480.6" y1="440.5" x2="489.5" y2="440.5" stroke="#777777" stroke-width="1"/>
<text x="478.1" y="444.92" font-size="12" text-anchor="end" fill="#111" >0</text>
<line x1="480.8" y1="440.5" x2="578.8" y2="440.5" stroke="#777777" stroke-width="1"/>
<line x1="515.5" y1="440.6" x2="515.5" y2="449.1" stroke="#777777" stroke-width="1"/>
<line x1="555.5" y1="440.6" x2="555.5" y2="449.1" stroke="#777777" stroke-width="1"/>
<line x1="515.5" y1="337.9" x2="515.5" y2="345.5" stroke="#74b2c0" stroke-width="1"/>
<line x1="509.0" y1="337.5" x2="521.8" y2="337.5" stroke="#74b2c0" stroke-width="1"/>
<line x1="509.0" y1="345.5" x2="521.8" y2="345.5" stroke="#74b2c0" stroke-width="1"/>
<line x1="554.5" y1="378.4" x2="554.5" y2="384" stroke="#fbb48a" stroke-width="1"/>
<line x1="548.1999999999999" y1="378.5" x2="561.4" y2="378.5" stroke="#fbb48a" stroke-width="1"/>
<line x1="548.1999999999999" y1="384.5" x2="561.4" y2="384.5" stroke="#fbb48a" stroke-width="1"/>
<circle cx="515.4" cy="297.6" r="1.85" fill="#0c7892"/>
<circle cx="515.4" cy="311.4" r="1.85" fill="#0c7892"/>
<circle cx="512.3" cy="320.7" r="1.85" fill="#0c7892"/>
<circle cx="518.7" cy="320.7" r="1.85" fill="#0c7892"/>
<circle cx="515.4" cy="325.4" r="1.85" fill="#0c7892"/>
<circle cx="515.4" cy="329.4" r="1.85" fill="#0c7892"/>
<circle cx="512.3" cy="333" r="1.85" fill="#0c7892"/>
<circle cx="518.7" cy="335.3" r="1.85" fill="#0c7892"/>
<circle cx="509" cy="338.5" r="1.85" fill="#0c7892"/>
<circle cx="515.4" cy="338.2" r="1.85" fill="#0c7892"/>
<circle cx="521.9" cy="341" r="1.85" fill="#0c7892"/>
<circle cx="512.3" cy="343.7" r="1.85" fill="#0c7892"/>
<circle cx="518.7" cy="345.2" r="1.85" fill="#0c7892"/>
<circle cx="512.3" cy="348" r="1.85" fill="#0c7892"/>
<circle cx="518.7" cy="349.6" r="1.85" fill="#0c7892"/>
<circle cx="518.7" cy="352.7" r="1.85" fill="#0c7892"/>
<circle cx="505.7" cy="355.2" r="1.85" fill="#0c7892"/>
<circle cx="512.3" cy="354.2" r="1.85" fill="#0c7892"/>
<circle cx="525.1" cy="353.4" r="1.85" fill="#0c7892"/>
<circle cx="512.3" cy="361" r="1.85" fill="#0c7892"/>
<circle cx="518.7" cy="364.2" r="1.85" fill="#0c7892"/>
<circle cx="512.3" cy="371.8" r="1.85" fill="#0c7892"/>
<circle cx="518.7" cy="372.6" r="1.85" fill="#0c7892"/>
<circle cx="551.9" cy="364.4" r="1.85" fill="#fa5f08"/>
<circle cx="554.8" cy="365.7" r="1.85" fill="#fa5f08"/>
<circle cx="557.7" cy="367.1" r="1.85" fill="#fa5f08"/>
<circle cx="551.9" cy="368.8" r="1.85" fill="#fa5f08"/>
<circle cx="557.7" cy="369.2" r="1.85" fill="#fa5f08"/>
<circle cx="554.8" cy="371.4" r="1.85" fill="#fa5f08"/>
<circle cx="554.8" cy="376.7" r="1.85" fill="#fa5f08"/>
<circle cx="554.8" cy="380.5" r="1.85" fill="#fa5f08"/>
<circle cx="551.9" cy="382.5" r="1.85" fill="#fa5f08"/>
<circle cx="554.8" cy="384.6" r="1.85" fill="#fa5f08"/>
<circle cx="557.7" cy="385.8" r="1.85" fill="#fa5f08"/>
<circle cx="551.9" cy="387.9" r="1.85" fill="#fa5f08"/>
<circle cx="557.7" cy="387.5" r="1.85" fill="#fa5f08"/>
<circle cx="554.8" cy="390.7" r="1.85" fill="#fa5f08"/>
<circle cx="554.8" cy="397.4" r="1.85" fill="#fa5f08"/>
<circle cx="553.4" cy="400" r="1.85" fill="#fa5f08"/>
<circle cx="556.3" cy="401.8" r="1.85" fill="#fa5f08"/>
<path d="M525.05,282.00L525.05,288.00M522.81,286.40L527.29,283.60M522.81,283.60L527.29,286.40" stroke="#1a1a1a" stroke-width="1.15" stroke-linecap="round" fill="none"/><circle cx="525.05" cy="285.00" r="1.25" fill="#1a1a1a"/>
<path d="M532.75,282.00L532.75,288.00M530.51,286.40L534.99,283.60M530.51,283.60L534.99,286.40" stroke="#1a1a1a" stroke-width="1.15" stroke-linecap="round" fill="none"/><circle cx="532.75" cy="285.00" r="1.25" fill="#1a1a1a"/>
<path d="M540.45,282.00L540.45,288.00M538.21,286.40L542.69,283.60M538.21,283.60L542.69,286.40" stroke="#1a1a1a" stroke-width="1.15" stroke-linecap="round" fill="none"/><circle cx="540.45" cy="285.00" r="1.25" fill="#1a1a1a"/>
<path d="M548.15,282.00L548.15,288.00M545.91,286.40L550.39,283.60M545.91,283.60L550.39,286.40" stroke="#1a1a1a" stroke-width="1.15" stroke-linecap="round" fill="none"/><circle cx="548.15" cy="285.00" r="1.25" fill="#1a1a1a"/>
<text x="512.8" y="463.5" font-size="12" text-anchor="middle" fill="#111" >Optimal</text>
<text x="556.1" y="463.5" font-size="12" text-anchor="middle" fill="#111" >Aged</text>
<text x="458" y="362.5" font-size="13.1" text-anchor="middle" fill="#111" transform="rotate(-90 458 362.5)" >Projected area (×10<tspan dy="-5.5" font-size="9.5">4</tspan><tspan dy="5.5"> μm</tspan><tspan dy="-5.5" font-size="9.5">2</tspan><tspan dy="5.5"> )</tspan></text>
<text x="2.1" y="516.6" font-size="14.4" text-anchor="start" fill="#000" >E</text>
<line x1="97.5" y1="554.0" x2="97.5" y2="713.3" stroke="#777777" stroke-width="1"/>
<line x1="87.9" y1="554.5" x2="97.2" y2="554.5" stroke="#777777" stroke-width="1"/>
<text x="85.4" y="558.14" font-size="11.5" text-anchor="end" fill="#111" >100</text>
<line x1="87.9" y1="593.5" x2="97.2" y2="593.5" stroke="#777777" stroke-width="1"/>
<text x="85.4" y="597.965" font-size="11.5" text-anchor="end" fill="#111" >75</text>
<line x1="87.9" y1="633.5" x2="97.2" y2="633.5" stroke="#777777" stroke-width="1"/>
<text x="85.4" y="637.79" font-size="11.5" text-anchor="end" fill="#111" >50</text>
<line x1="87.9" y1="673.5" x2="97.2" y2="673.5" stroke="#777777" stroke-width="1"/>
<text x="85.4" y="677.6149999999999" font-size="11.5" text-anchor="end" fill="#111" >25</text>
<line x1="87.9" y1="713.5" x2="97.2" y2="713.5" stroke="#777777" stroke-width="1"/>
<text x="85.4" y="717.4399999999999" font-size="11.5" text-anchor="end" fill="#111" >0</text>
<line x1="97.2" y1="713.5" x2="331.6" y2="713.5" stroke="#777777" stroke-width="1"/>
<line x1="97.5" y1="713.3" x2="97.5" y2="718.5" stroke="#777777" stroke-width="1"/>
<text x="97.2" y="738" font-size="11.5" text-anchor="middle" fill="#111" >0</text>
<line x1="155.5" y1="713.3" x2="155.5" y2="718.5" stroke="#777777" stroke-width="1"/>
<text x="155.8" y="738" font-size="11.5" text-anchor="middle" fill="#111" >100</text>
<line x1="214.5" y1="713.3" x2="214.5" y2="718.5" stroke="#777777" stroke-width="1"/>
<text x="214.40000000000003" y="738" font-size="11.5" text-anchor="middle" fill="#111" >200</text>
<line x1="273.5" y1="713.3" x2="273.5" y2="718.5" stroke="#777777" stroke-width="1"/>
<text x="273.00000000000006" y="738" font-size="11.5" text-anchor="middle" fill="#111" >300</text>
<line x1="331.5" y1="713.3" x2="331.5" y2="718.5" stroke="#777777" stroke-width="1"/>
<text x="331.6" y="738" font-size="11.5" text-anchor="middle" fill="#111" >400</text>
<polyline points="97.20,554.00 114.78,562.92 132.36,582.04 149.94,582.04 167.52,600.99 185.10,642.89 202.68,672.04 237.84,713.30" fill="none" stroke="#f2763f" stroke-width="1.3" stroke-linejoin="round"/>
<polyline points="97.20,554.00 149.94,554.00 167.52,572.48 185.10,610.23 202.68,638.59 220.26,657.07 237.84,666.63 273.00,704.38 290.58,713.30" fill="none" stroke="#2b9ab8" stroke-width="1.3" stroke-linejoin="round"/>
<path d="M201.00,604.40L201.00,611.40M198.39,609.53L203.61,606.27M198.39,606.27L203.61,609.53" stroke="#1a1a1a" stroke-width="1.4" stroke-linecap="round" fill="none"/><circle cx="201.00" cy="607.90" r="1.25" fill="#1a1a1a"/>
<line x1="268.4" y1="552.4" x2="282.6" y2="552.4" stroke="#2b9ab8" stroke-width="1.3"/>
<line x1="268.4" y1="572" x2="282.6" y2="572" stroke="#f2763f" stroke-width="1.3"/>
<text x="297.6" y="557.4" font-size="12.5" text-anchor="start" fill="#111" >Optimal</text>
<text x="297.6" y="577" font-size="12.5" text-anchor="start" fill="#111" >Aged</text>
<text x="218.3" y="757" font-size="12.5" text-anchor="middle" fill="#111" >After mating (min)</text>
<text x="52.7" y="632.6" font-size="13" text-anchor="middle" fill="#111" transform="rotate(-90 52.7 632.6)" >Mating plug ejection rate (%)</text>
<text x="409.7" y="517.6" font-size="14.4" text-anchor="start" fill="#000" >F</text>
<rect x="510.7" y="607" width="23.80000000000001" height="96" fill="#c8dcf6" />
<rect x="546.5" y="644.6" width="23.799999999999955" height="58.39999999999998" fill="#fee0c2" />
<rect x="582" y="629.7" width="24" height="73.29999999999995" fill="#fdbd82" />
<line x1="499.5" y1="565.0" x2="499.5" y2="703.0" stroke="#777777" stroke-width="1"/>
<line x1="491.0" y1="565.5" x2="499.3" y2="565.5" stroke="#777777" stroke-width="1"/>
<text x="488.5" y="569.068" font-size="11.3" text-anchor="end" fill="#111" >6</text>
<line x1="491.0" y1="611.5" x2="499.3" y2="611.5" stroke="#777777" stroke-width="1"/>
<text x="488.5" y="615.068" font-size="11.3" text-anchor="end" fill="#111" >4</text>
<line x1="491.0" y1="657.5" x2="499.3" y2="657.5" stroke="#777777" stroke-width="1"/>
<text x="488.5" y="661.068" font-size="11.3" text-anchor="end" fill="#111" >2</text>
<line x1="491.0" y1="703.5" x2="499.3" y2="703.5" stroke="#777777" stroke-width="1"/>
<text x="488.5" y="707.068" font-size="11.3" text-anchor="end" fill="#111" >0</text>
<line x1="491.4" y1="703.5" x2="615.5" y2="703.5" stroke="#777777" stroke-width="1"/>
<line x1="524.5" y1="703" x2="524.5" y2="711.5" stroke="#777777" stroke-width="1"/>
<line x1="559.5" y1="703" x2="559.5" y2="711.5" stroke="#777777" stroke-width="1"/>
<line x1="595.5" y1="703" x2="595.5" y2="711.5" stroke="#777777" stroke-width="1"/>
<line x1="522.5" y1="603.3" x2="522.5" y2="610.5" stroke="#74b2c0" stroke-width="1"/>
<line x1="517.0" y1="603.5" x2="528.8" y2="603.5" stroke="#74b2c0" stroke-width="1"/>
<line x1="517.0" y1="610.5" x2="528.8" y2="610.5" stroke="#74b2c0" stroke-width="1"/>
<line x1="558.5" y1="645.1" x2="558.5" y2="647.4" stroke="#fbb48a" stroke-width="1"/>
<line x1="552.5" y1="645.5" x2="564.0999999999999" y2="645.5" stroke="#fbb48a" stroke-width="1"/>
<line x1="552.5" y1="647.5" x2="564.0999999999999" y2="647.5" stroke="#fbb48a" stroke-width="1"/>
<line x1="593.5" y1="626" x2="593.5" y2="633.2" stroke="#fbb48a" stroke-width="1"/>
<line x1="588.4" y1="626.5" x2="598.8000000000001" y2="626.5" stroke="#fbb48a" stroke-width="1"/>
<line x1="588.4" y1="633.5" x2="598.8000000000001" y2="633.5" stroke="#fbb48a" stroke-width="1"/>
<circle cx="522.6" cy="576.9" r="1.85" fill="#0c7892"/>
<circle cx="518" cy="595" r="1.85" fill="#0c7892"/>
<circle cx="522.6" cy="597.9" r="1.85" fill="#0c7892"/>
<circle cx="527.5" cy="597.9" r="1.85" fill="#0c7892"/>
<circle cx="522.6" cy="607.6" r="1.85" fill="#0c7892"/>
<circle cx="527.5" cy="607.9" r="1.85" fill="#0c7892"/>
<circle cx="513.4" cy="610.5" r="1.85" fill="#0c7892"/>
<circle cx="518" cy="610.5" r="1.85" fill="#0c7892"/>
<circle cx="522.6" cy="610.5" r="1.85" fill="#0c7892"/>
<circle cx="532.1" cy="610.5" r="1.85" fill="#0c7892"/>
<circle cx="518" cy="616" r="1.85" fill="#0c7892"/>
<circle cx="522.6" cy="617.2" r="1.85" fill="#0c7892"/>
<circle cx="527.5" cy="617.5" r="1.85" fill="#0c7892"/>
<circle cx="522.6" cy="622.4" r="1.85" fill="#0c7892"/>
<circle cx="556.3" cy="628.6" r="1.85" fill="#fa5f08"/>
<circle cx="560.5" cy="628.6" r="1.85" fill="#fa5f08"/>
<circle cx="548.7" cy="645.4" r="1.85" fill="#fa5f08"/>
<circle cx="552.5" cy="643.1" r="1.85" fill="#fa5f08"/>
<circle cx="556.3" cy="642" r="1.85" fill="#fa5f08"/>
<circle cx="560.2" cy="642" r="1.85" fill="#fa5f08"/>
<circle cx="564" cy="643.1" r="1.85" fill="#fa5f08"/>
<circle cx="567.8" cy="644.3" r="1.85" fill="#fa5f08"/>
<circle cx="556.3" cy="649.2" r="1.85" fill="#fa5f08"/>
<circle cx="560.2" cy="649.7" r="1.85" fill="#fa5f08"/>
<circle cx="556.3" cy="652.3" r="1.85" fill="#fa5f08"/>
<circle cx="560.2" cy="653.5" r="1.85" fill="#fa5f08"/>
<circle cx="558.3" cy="660.9" r="1.85" fill="#fa5f08"/>
<circle cx="593.6" cy="595" r="1.85" fill="#fa5f08"/>
<circle cx="592.4" cy="612.2" r="1.85" fill="#fa5f08"/>
<circle cx="595.4" cy="614.9" r="1.85" fill="#fa5f08"/>
<circle cx="593.6" cy="624.9" r="1.85" fill="#fa5f08"/>
<circle cx="591.6" cy="626.7" r="1.85" fill="#fa5f08"/>
<circle cx="595.4" cy="627" r="1.85" fill="#fa5f08"/>
<circle cx="593.6" cy="629" r="1.85" fill="#fa5f08"/>
<circle cx="591.6" cy="632.5" r="1.85" fill="#fa5f08"/>
<circle cx="596.2" cy="632.1" r="1.85" fill="#fa5f08"/>
<circle cx="593.6" cy="640.5" r="1.85" fill="#fa5f08"/>
<circle cx="591.6" cy="642.8" r="1.85" fill="#fa5f08"/>
<circle cx="595.4" cy="645.1" r="1.85" fill="#fa5f08"/>
<circle cx="593.6" cy="648.2" r="1.85" fill="#fa5f08"/>
<line x1="510.6" y1="550.5" x2="570" y2="550.5" stroke="#a8a8a8" stroke-width="1"/>
<path d="M528.85,541.30L528.85,547.30M526.61,545.70L531.09,542.90M526.61,542.90L531.09,545.70" stroke="#1a1a1a" stroke-width="1.15" stroke-linecap="round" fill="none"/><circle cx="528.85" cy="544.30" r="1.25" fill="#1a1a1a"/>
<path d="M536.55,541.30L536.55,547.30M534.31,545.70L538.79,542.90M534.31,542.90L538.79,545.70" stroke="#1a1a1a" stroke-width="1.15" stroke-linecap="round" fill="none"/><circle cx="536.55" cy="544.30" r="1.25" fill="#1a1a1a"/>
<path d="M544.25,541.30L544.25,547.30M542.01,545.70L546.49,542.90M542.01,542.90L546.49,545.70" stroke="#1a1a1a" stroke-width="1.15" stroke-linecap="round" fill="none"/><circle cx="544.25" cy="544.30" r="1.25" fill="#1a1a1a"/>
<path d="M551.95,541.30L551.95,547.30M549.71,545.70L554.19,542.90M549.71,542.90L554.19,545.70" stroke="#1a1a1a" stroke-width="1.15" stroke-linecap="round" fill="none"/><circle cx="551.95" cy="544.30" r="1.25" fill="#1a1a1a"/>
<line x1="543.4" y1="583.5" x2="602.4" y2="583.5" stroke="#a8a8a8" stroke-width="1"/>
<path d="M570.35,575.30L570.35,581.30M568.11,579.70L572.59,576.90M568.11,576.90L572.59,579.70" stroke="#1a1a1a" stroke-width="1.15" stroke-linecap="round" fill="none"/><circle cx="570.35" cy="578.30" r="1.25" fill="#1a1a1a"/>
<path d="M578.05,575.30L578.05,581.30M575.81,579.70L580.29,576.90M575.81,576.90L580.29,579.70" stroke="#1a1a1a" stroke-width="1.15" stroke-linecap="round" fill="none"/><circle cx="578.05" cy="578.30" r="1.25" fill="#1a1a1a"/>
<text x="469.5" y="631" font-size="12" text-anchor="middle" fill="#111" transform="rotate(-90 469.5 631)" >Projected area (×10<tspan dy="-5" font-size="9">4</tspan><tspan dy="5"> μm</tspan><tspan dy="-5" font-size="9">2</tspan><tspan dy="5">)</tspan></text>
<text x="527.0" y="719.3" font-size="11" text-anchor="end" fill="#111" transform="rotate(-45 527.0 719.3)" >Optimal</text>
<text x="562.8" y="719.3" font-size="11" text-anchor="end" fill="#111" transform="rotate(-45 562.8 719.3)" >Aged</text>
<text x="599.0" y="717.6" font-size="11" text-anchor="end" fill="#111" transform="rotate(-45 599.0 717.6)" >Aged (Primed)</text>
<text x="2.8" y="794.3" font-size="14.4" text-anchor="start" fill="#000" >G</text>
<rect x="43.7" y="856.5" width="99.49999999999999" height="13.6" fill="#fff" stroke="#777" stroke-width="1"/>
<text x="93.44999999999999" y="867.2" font-size="11.4" text-anchor="middle" fill="#111" >Optimal</text>
<rect x="146.0" y="856.5" width="100.19999999999999" height="13.6" fill="#fff" stroke="#777" stroke-width="1"/>
<text x="196.1" y="867.2" font-size="11.4" text-anchor="middle" fill="#111" >Aged</text>
<rect x="249.3" y="856.5" width="98.69999999999999" height="13.6" fill="#fff" stroke="#777" stroke-width="1"/>
<text x="298.65" y="865.7" font-size="11.4" text-anchor="middle" fill="#111" >Aged (primed)</text>

<defs>
 <filter id="speck" x="0" y="0" width="100%" height="100%" color-interpolation-filters="sRGB">
  <feTurbulence type="fractalNoise" baseFrequency="0.3" numOctaves="3" seed="3" result="n"/>
  <feColorMatrix in="n" type="matrix" values="0 0 0 0 0.36  0 0 0 0 0.33  0 0 0 0 0.27  3.0 0 0 0 -1.36" result="s"/>
  <feComposite in="s" in2="SourceGraphic" operator="in"/>
 </filter>
 <filter id="speck2" x="0" y="0" width="100%" height="100%" color-interpolation-filters="sRGB">
  <feTurbulence type="fractalNoise" baseFrequency="0.36" numOctaves="3" seed="8" result="n"/>
  <feColorMatrix in="n" type="matrix" values="0 0 0 0 0.38  0 0 0 0 0.36  0 0 0 0 0.30  3.0 0 0 0 -1.45" result="s"/>
  <feComposite in="s" in2="SourceGraphic" operator="in"/>
 </filter>
 <filter id="gsoft" x="-20%" y="-20%" width="140%" height="140%"><feGaussianBlur stdDeviation="0.5"/></filter>
 <filter id="gshadow" x="-50%" y="-50%" width="200%" height="200%"><feGaussianBlur stdDeviation="3"/></filter>
 <linearGradient id="gm1" x1="0" y1="0" x2="0" y2="1"><stop offset="0" stop-color="#fff"/><stop offset="0.5" stop-color="#bbb"/><stop offset="1" stop-color="#888"/></linearGradient>
 <linearGradient id="gm2" x1="0" y1="0" x2="0.3" y2="1"><stop offset="0" stop-color="#888"/><stop offset="0.5" stop-color="#aaa"/><stop offset="1" stop-color="#fff"/></linearGradient>
 <mask id="mk1"><rect x="145" y="873" width="102" height="100" fill="url(#gm1)"/></mask>
 <mask id="mk2"><rect x="248" y="873" width="101" height="100" fill="url(#gm2)"/></mask>
 <linearGradient id="gcream" x1="0" y1="0" x2="1" y2="1"><stop offset="0" stop-color="#f0efdc"/><stop offset="1" stop-color="#e2dfc6"/></linearGradient>
</defs>
<rect x="43.2" y="873" width="100.5" height="99.6" fill="#1e1e1c"/>
<rect x="145.5" y="873" width="101.2" height="99.6" fill="#0a0705"/>
<g mask="url(#mk1)"><rect x="145.5" y="873" width="101.2" height="99.6" fill="#fff" filter="url(#speck)"/></g>
<ellipse cx="197.6" cy="922.6" rx="13" ry="15" fill="#050403" filter="url(#gshadow)"/>
<rect x="248.8" y="873" width="99.7" height="99.6" fill="#060403"/>
<g mask="url(#mk2)"><rect x="248.8" y="873" width="99.7" height="99.6" fill="#fff" filter="url(#speck2)"/></g>
<ellipse cx="298.6" cy="922.6" rx="14" ry="20" fill="#050403" filter="url(#gshadow)"/>
<g filter="url(#gsoft)">
<path d="M87.7,902.5C88.2,902.3 88.2,903.3 89.2,904.0C90.2,904.8 91.9,905.9 93.6,907.0C95.4,908.1 97.6,909.6 99.6,910.7C101.6,911.8 104.2,912.5 105.5,913.7C106.9,914.9 107.3,916.5 107.8,918.2C108.2,919.8 108.5,921.9 108.2,923.4C108.0,924.9 106.9,925.5 106.3,927.1C105.7,928.7 105.2,931.3 104.8,933.0C104.4,934.8 104.4,936.0 104.0,937.5C103.7,939.0 103.2,941.1 102.6,942.0C101.9,942.9 101.2,943.0 100.3,942.7C99.5,942.5 98.3,941.1 97.3,940.5C96.4,939.9 95.1,938.8 94.4,939.0C93.6,939.3 93.5,940.7 92.9,942.0C92.3,943.2 91.4,945.3 90.6,946.5C89.9,947.6 89.0,948.7 88.4,948.7C87.8,948.7 87.4,947.6 86.9,946.5C86.4,945.3 86.2,943.2 85.4,942.0C84.7,940.7 83.5,940.2 82.5,939.0C81.5,937.8 80.3,936.3 79.5,934.5C78.6,932.8 77.8,930.6 77.2,928.6C76.7,926.6 76.2,924.6 76.1,922.6C75.9,920.6 75.9,918.5 76.5,916.7C77.1,914.8 78.4,912.9 79.5,911.5C80.6,910.0 82.1,908.7 83.2,907.7C84.3,906.7 85.4,906.4 86.2,905.5C86.9,904.6 87.2,902.8 87.7,902.5Z" fill="url(#gcream)"/>
<path d="M194.1,911.0C195.6,910.6 198.5,910.0 200.1,910.4C201.7,910.9 202.8,912.4 203.8,913.7C204.8,915.0 205.6,916.4 206.0,918.2C206.5,919.9 206.9,922.0 206.8,924.1C206.7,926.2 205.7,929.1 205.3,930.8C204.9,932.6 205.9,934.0 204.6,934.5C203.2,935.1 199.5,934.4 197.1,934.2C194.8,934.1 191.8,934.7 190.4,933.8C189.0,932.9 189.3,930.7 188.9,928.6C188.6,926.5 188.2,923.2 188.2,921.1C188.2,919.0 188.4,917.3 188.9,915.9C189.4,914.6 190.3,913.8 191.2,912.9C192.0,912.1 192.6,911.4 194.1,911.0Z" fill="#f3f1e0"/>
<path d="M295.6,905.1C296.6,905.1 298.4,906.0 299.4,906.5C300.4,907.1 300.6,908.2 301.6,908.5C302.6,908.7 304.5,907.4 305.3,908.0C306.2,908.7 306.2,910.5 306.8,912.2C307.4,913.9 308.6,915.9 309.0,918.2C309.5,920.4 309.9,923.4 309.8,925.6C309.7,927.8 309.2,929.8 308.3,931.6C307.4,933.3 305.7,934.7 304.6,936.0C303.5,937.4 302.7,939.0 301.6,939.7C300.5,940.5 299.4,940.6 297.9,940.5C296.4,940.4 293.9,940.0 292.7,939.0C291.4,938.0 291.1,936.3 290.4,934.5C289.8,932.8 289.4,930.8 288.9,928.6C288.5,926.3 288.0,923.4 287.9,921.1C287.8,918.9 288.0,917.0 288.5,915.2C289.0,913.3 290.4,911.4 291.2,910.0C292.0,908.5 292.7,907.4 293.4,906.5C294.2,905.7 294.7,905.1 295.6,905.1Z" fill="#f2f0dc"/>
</g>
<line x1="45.2" y1="969.5" x2="61.2" y2="969.5" stroke="#fff" stroke-width="1.4"/>

<text x="410.8" y="794.7" font-size="14.4" text-anchor="start" fill="#000" >H</text>
<rect x="511.4" y="895" width="24.300000000000068" height="79.39999999999998" fill="#c8dcf6" />
<rect x="548" y="920.3" width="24" height="54.10000000000002" fill="#fee0c2" />
<rect x="584.2" y="898" width="24.199999999999932" height="76.39999999999998" fill="#fdbd82" />
<line x1="499.5" y1="834.4" x2="499.5" y2="974.4" stroke="#777777" stroke-width="1"/>
<line x1="491.8" y1="834.5" x2="499.5" y2="834.5" stroke="#777777" stroke-width="1"/>
<text x="489.3" y="838.36" font-size="11" text-anchor="end" fill="#111" >0.08</text>
<line x1="491.8" y1="869.5" x2="499.5" y2="869.5" stroke="#777777" stroke-width="1"/>
<text x="489.3" y="873.36" font-size="11" text-anchor="end" fill="#111" >0.06</text>
<line x1="491.8" y1="904.5" x2="499.5" y2="904.5" stroke="#777777" stroke-width="1"/>
<text x="489.3" y="908.36" font-size="11" text-anchor="end" fill="#111" >0.04</text>
<line x1="491.8" y1="939.5" x2="499.5" y2="939.5" stroke="#777777" stroke-width="1"/>
<text x="489.3" y="943.36" font-size="11" text-anchor="end" fill="#111" >0.02</text>
<line x1="491.8" y1="974.5" x2="499.5" y2="974.5" stroke="#777777" stroke-width="1"/>
<text x="489.3" y="978.36" font-size="11" text-anchor="end" fill="#111" >0.00</text>
<line x1="491.6" y1="974.5" x2="617.7" y2="974.5" stroke="#777777" stroke-width="1"/>
<line x1="523.5" y1="974.4" x2="523.5" y2="982.9" stroke="#777777" stroke-width="1"/>
<line x1="559.5" y1="974.4" x2="559.5" y2="982.9" stroke="#777777" stroke-width="1"/>
<line x1="595.5" y1="974.4" x2="595.5" y2="982.9" stroke="#777777" stroke-width="1"/>
<line x1="523.5" y1="892.3" x2="523.5" y2="898.4" stroke="#74b2c0" stroke-width="1"/>
<line x1="517.4" y1="892.5" x2="529.8000000000001" y2="892.5" stroke="#74b2c0" stroke-width="1"/>
<line x1="517.4" y1="898.5" x2="529.8000000000001" y2="898.5" stroke="#74b2c0" stroke-width="1"/>
<line x1="560.5" y1="911.5" x2="560.5" y2="929.4" stroke="#fbb48a" stroke-width="1"/>
<line x1="554" y1="911.5" x2="566" y2="911.5" stroke="#fbb48a" stroke-width="1"/>
<line x1="554" y1="929.5" x2="566" y2="929.5" stroke="#fbb48a" stroke-width="1"/>
<line x1="596.5" y1="890.3" x2="596.5" y2="906.4" stroke="#fbb48a" stroke-width="1"/>
<line x1="590.0999999999999" y1="890.5" x2="602.5" y2="890.5" stroke="#fbb48a" stroke-width="1"/>
<line x1="590.0999999999999" y1="906.5" x2="602.5" y2="906.5" stroke="#fbb48a" stroke-width="1"/>
<circle cx="523.5" cy="874.9" r="1.85" fill="#0c7892"/>
<circle cx="523.5" cy="884.2" r="1.85" fill="#0c7892"/>
<circle cx="521.1" cy="886.3" r="1.85" fill="#0c7892"/>
<circle cx="524" cy="887.9" r="1.85" fill="#0c7892"/>
<circle cx="526.2" cy="889" r="1.85" fill="#0c7892"/>
<circle cx="523.5" cy="897.2" r="1.85" fill="#0c7892"/>
<circle cx="521.1" cy="905.1" r="1.85" fill="#0c7892"/>
<circle cx="523.5" cy="904.8" r="1.85" fill="#0c7892"/>
<circle cx="524.6" cy="905.1" r="1.85" fill="#0c7892"/>
<circle cx="521.9" cy="905.9" r="1.85" fill="#0c7892"/>
<circle cx="526.2" cy="908.3" r="1.85" fill="#0c7892"/>
<circle cx="559.9" cy="882.3" r="1.85" fill="#fa5f08"/>
<circle cx="559.9" cy="888.2" r="1.85" fill="#fa5f08"/>
<circle cx="559.9" cy="893.1" r="1.85" fill="#fa5f08"/>
<circle cx="559.9" cy="907.2" r="1.85" fill="#fa5f08"/>
<circle cx="559.9" cy="923.6" r="1.85" fill="#fa5f08"/>
<circle cx="558" cy="927" r="1.85" fill="#fa5f08"/>
<circle cx="561.5" cy="928.1" r="1.85" fill="#fa5f08"/>
<circle cx="559.9" cy="937.5" r="1.85" fill="#fa5f08"/>
<circle cx="559.5" cy="957.6" r="1.85" fill="#fa5f08"/>
<circle cx="561" cy="959.5" r="1.85" fill="#fa5f08"/>
<circle cx="596.2" cy="858.5" r="1.85" fill="#fa5f08"/>
<circle cx="596.2" cy="889" r="1.85" fill="#fa5f08"/>
<circle cx="594.9" cy="896.4" r="1.85" fill="#fa5f08"/>
<circle cx="597.3" cy="898.7" r="1.85" fill="#fa5f08"/>
<circle cx="594.9" cy="910.4" r="1.85" fill="#fa5f08"/>
<circle cx="597.3" cy="912" r="1.85" fill="#fa5f08"/>
<circle cx="596.2" cy="921.3" r="1.85" fill="#fa5f08"/>
<line x1="512.5" y1="833.5" x2="565" y2="833.5" stroke="#a8a8a8" stroke-width="1"/>
<path d="M538.00,824.00L538.00,830.00M535.76,828.40L540.24,825.60M535.76,825.60L540.24,828.40" stroke="#1a1a1a" stroke-width="1.15" stroke-linecap="round" fill="none"/><circle cx="538.00" cy="827.00" r="1.25" fill="#1a1a1a"/>
<line x1="550" y1="854.5" x2="607" y2="854.5" stroke="#a8a8a8" stroke-width="1"/>
<text x="578.8" y="0" font-size="10.3" text-anchor="middle" fill="#111" transform="translate(0 849.4) scale(1 0.8)">p=0.0906</text>
<text x="459" y="906" font-size="11.1" text-anchor="middle" fill="#111" transform="rotate(-90 459 906)" >Weight (g)</text>
<text x="526.3" y="991.0" font-size="11" text-anchor="end" fill="#111" transform="rotate(-45 526.3 991.0)" >Optimal</text>
<text x="562.8" y="991.0" font-size="11" text-anchor="end" fill="#111" transform="rotate(-45 562.8 991.0)" >Aged</text>
<text x="600.5" y="989.5" font-size="11" text-anchor="end" fill="#111" transform="rotate(-45 600.5 989.5)" >Aged (Primed)</text>
</svg>
</body></html>
